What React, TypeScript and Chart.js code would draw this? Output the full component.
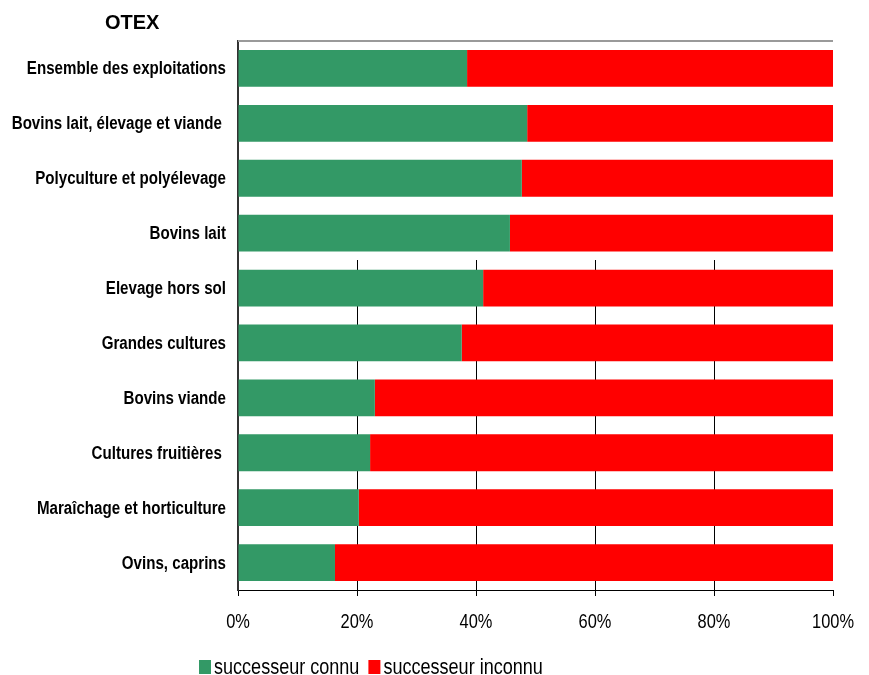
import React, { useEffect, useRef } from "react";
import { Chart, registerables } from "chart.js";

Chart.register(...registerables);

const categories = [
  "Ensemble des exploitations",
  "Bovins lait, élevage et viande ",
  "Polyculture et polyélevage",
  "Bovins lait",
  "Elevage hors sol",
  "Grandes cultures",
  "Bovins viande",
  "Cultures fruitières ",
  "Maraîchage et horticulture",
  "Ovins, caprins",
];

const successeurConnu = [38.5, 48.6, 47.7, 45.7, 41.2, 37.6, 23.0, 22.2, 20.3, 16.3];
const successeurInconnu = [61.5, 51.4, 52.3, 54.3, 58.8, 62.4, 77.0, 77.8, 79.7, 83.7];

const seriesLabels = ["successeur connu", "successeur inconnu"];
const seriesColors = ["#339966", "#FF0000"];
const axisTitle = "OTEX";
const xTicks = [0, 20, 40, 60, 80, 100];

const SANS = '"Liberation Sans", Arial, sans-serif';
const NARROW_SCALE = 0.82;

function narrowText(
  ctx: CanvasRenderingContext2D,
  text: string,
  x: number,
  y: number,
  align: "left" | "right" | "center",
  sx: number = NARROW_SCALE
) {
  ctx.save();
  ctx.translate(x, y);
  ctx.scale(sx, 1);
  ctx.textAlign = align;
  ctx.fillText(text, 0, 0);
  ctx.restore();
}

export default function App() {
  const ref = useRef<HTMLCanvasElement | null>(null);

  useEffect(() => {
    if (!ref.current) return;

    const decor = {
      id: "decor",
      beforeDatasetsDraw(chart: any) {
        const { ctx, chartArea, scales } = chart;
        const x = scales.x;
        const y = scales.y;
        ctx.save();
        const startY = Math.round(y.getPixelForValue(3.5)) - 1;
        ctx.strokeStyle = "#000";
        ctx.lineWidth = 1;
        [20, 40, 60, 80].forEach((v) => {
          const px = Math.round(x.getPixelForValue(v)) + 0.5;
          ctx.beginPath();
          ctx.moveTo(px, startY);
          ctx.lineTo(px, chartArea.bottom);
          ctx.stroke();
        });
        ctx.strokeStyle = "#9a9a9a";
        ctx.lineWidth = 2;
        ctx.beginPath();
        ctx.moveTo(chartArea.left, chartArea.top);
        ctx.lineTo(chartArea.right, chartArea.top);
        ctx.stroke();
        ctx.restore();
      },
      afterDraw(chart: any) {
        const { ctx, scales, chartArea } = chart;
        const x = scales.x;
        const y = scales.y;
        ctx.save();
        ctx.fillStyle = "#000";
        ctx.textBaseline = "alphabetic";
        ctx.font = `bold 20px ${SANS}`;
        ctx.textAlign = "left";
        ctx.fillText(axisTitle, 105, 29);
        ctx.font = `bold 18px ${SANS}`;
        ctx.textBaseline = "middle";
        categories.forEach((c, i) => {
          narrowText(ctx, c, chartArea.left - 12, y.getPixelForValue(i) + 1, "right", 0.84);
        });
        ctx.font = `20px ${SANS}`;
        ctx.textBaseline = "alphabetic";
        xTicks.forEach((v) => {
          narrowText(ctx, `${v}%`, x.getPixelForValue(v), 628, "center");
        });
        ctx.font = `22px ${SANS}`;
        let lx = 199;
        const ly = 660;
        seriesLabels.forEach((lab, i) => {
          ctx.fillStyle = seriesColors[i];
          ctx.fillRect(lx, ly, 12, 14);
          ctx.fillStyle = "#000";
          narrowText(ctx, lab, lx + 15, ly + 14, "left");
          lx += 15 + ctx.measureText(lab).width * NARROW_SCALE + 9;
        });
        ctx.restore();
      },
    };

    const chart = new Chart(ref.current, {
      type: "bar",
      data: {
        labels: categories,
        datasets: [
          {
            label: seriesLabels[0],
            data: successeurConnu,
            backgroundColor: seriesColors[0],
            borderWidth: 0,
            barPercentage: 0.67,
            categoryPercentage: 1,
          },
          {
            label: seriesLabels[1],
            data: successeurInconnu,
            backgroundColor: seriesColors[1],
            borderWidth: 0,
            barPercentage: 0.67,
            categoryPercentage: 1,
          },
        ],
      },
      options: {
        indexAxis: "y",
        responsive: false,
        animation: false,
        layout: { padding: { left: 0, top: 41, right: 36, bottom: 0 } },
        plugins: {
          legend: { display: false },
          tooltip: { enabled: false },
          title: { display: false },
        },
        scales: {
          x: {
            stacked: true,
            min: 0,
            max: 100,
            afterBuildTicks(scale: any) {
              scale.ticks = xTicks.map((v) => ({ value: v }));
            },
            afterFit(scale: any) {
              scale.height = 85;
            },
            grid: {
              drawOnChartArea: false,
              drawTicks: true,
              tickLength: 6,
              tickColor: "#000",
            },
            border: { display: true, color: "#000", width: 1 },
            ticks: { display: false },
          },
          y: {
            stacked: true,
            afterFit(scale: any) {
              scale.width = 238;
            },
            grid: { display: false, drawTicks: false },
            border: { display: true, color: "#333", width: 2 },
            ticks: { display: false },
          },
        },
      },
      plugins: [decor],
    });

    return () => chart.destroy();
  }, []);

  return (
    <div style={{ position: "fixed", left: 0, top: 0, width: 869, height: 675, background: "#fff" }}>
      <canvas ref={ref} width={869} height={675} style={{ display: "block" }} />
    </div>
  );
}
